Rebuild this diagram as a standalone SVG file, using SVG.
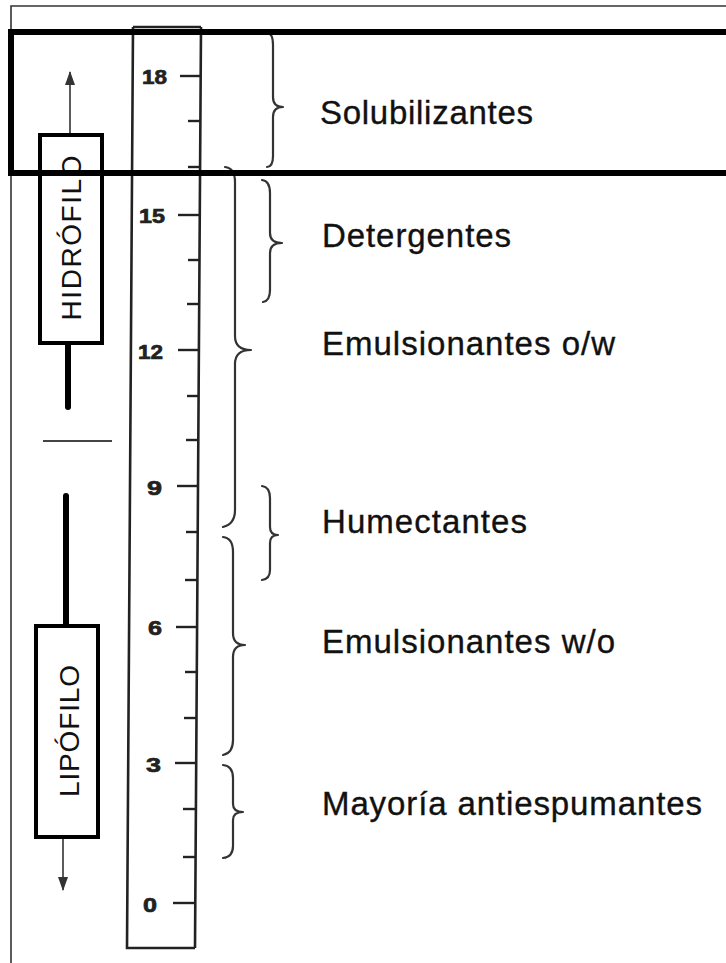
<svg xmlns="http://www.w3.org/2000/svg" width="726" height="963" viewBox="0 0 726 963">
  <defs>
    <marker id="arrowhead" viewBox="0 0 14 10" refX="13" refY="5" markerWidth="14" markerHeight="10" markerUnits="userSpaceOnUse" orient="auto">
      <path d="M0,0 L14,5 L0,10 Z" fill="#333"/>
    </marker>
    <style>
      .label { font-family: "Liberation Sans", Arial, sans-serif; font-size: 33px; fill: #111; stroke: #111; stroke-width: 0.35; }
      .axis { font-family: "Liberation Sans", Arial, sans-serif; font-size: 28px; fill: #111; }
      .num { font-family: "Liberation Sans", Arial, sans-serif; font-size: 21px; font-weight: bold; fill: #222; stroke: #222; stroke-width: 0.7; }
      .brace { fill: none; stroke: #333; stroke-width: 2.2; stroke-linecap: round; stroke-linejoin: round; }
      .ruler { fill: none; stroke: #222; stroke-width: 2.6; }
      .tick { stroke: #222; stroke-width: 2.4; }
      .box { fill: #fff; stroke: #000; stroke-width: 4; }
      .thin { stroke: #333; stroke-width: 1.6; fill: none; }
      .thick { stroke: #000; stroke-width: 6; stroke-linecap: round; }
    </style>
  </defs>

  <rect width="726" height="963" fill="#fff"/>

  <!-- outer frame (top and left edges) -->
  <path d="M11,963 L11,6 L726,6" class="thin"/>

  <!-- HLB ruler, slightly slanted -->
  <g id="ruler">
    <path class="ruler" d="M133,27 L201,27 M133,27 L127,948 L195,948 M201,27 L195,948"/>
    <g>
      <!-- major ticks -->
      <line class="tick" x1="180" y1="76" x2="201" y2="76"/>
      <line class="tick" x1="178" y1="215" x2="200" y2="215"/>
      <line class="tick" x1="178" y1="350" x2="199" y2="350"/>
      <line class="tick" x1="177" y1="486" x2="198" y2="486"/>
      <line class="tick" x1="176" y1="627" x2="197" y2="627"/>
      <line class="tick" x1="175" y1="763" x2="196" y2="763"/>
      <line class="tick" x1="173" y1="903" x2="195" y2="903"/>
      <!-- minor ticks -->
      <line class="tick" x1="188" y1="121" x2="201" y2="121"/>
      <line class="tick" x1="188" y1="167" x2="200" y2="167"/>
      <line class="tick" x1="188" y1="260" x2="200" y2="260"/>
      <line class="tick" x1="187" y1="304" x2="199" y2="304"/>
      <line class="tick" x1="187" y1="396" x2="199" y2="396"/>
      <line class="tick" x1="186" y1="440" x2="198" y2="440"/>
      <line class="tick" x1="186" y1="532" x2="198" y2="532"/>
      <line class="tick" x1="185" y1="580" x2="197" y2="580"/>
      <line class="tick" x1="185" y1="672" x2="197" y2="672"/>
      <line class="tick" x1="184" y1="718" x2="196" y2="718"/>
      <line class="tick" x1="183" y1="809" x2="196" y2="809"/>
      <line class="tick" x1="183" y1="857" x2="195" y2="857"/>
    </g>
    <g>
      <text class="num" x="142" y="84" textLength="25" lengthAdjust="spacingAndGlyphs">18</text>
      <text class="num" x="139" y="223" textLength="26" lengthAdjust="spacingAndGlyphs">15</text>
      <text class="num" x="138" y="359" textLength="25" lengthAdjust="spacingAndGlyphs">12</text>
      <text class="num" x="147" y="495" textLength="15" lengthAdjust="spacingAndGlyphs">9</text>
      <text class="num" x="148" y="635" textLength="14" lengthAdjust="spacingAndGlyphs">6</text>
      <text class="num" x="146" y="772" textLength="15" lengthAdjust="spacingAndGlyphs">3</text>
      <text class="num" x="143" y="912" textLength="14" lengthAdjust="spacingAndGlyphs">0</text>
    </g>
  </g>

  <!-- connectors: direction arrows and bars -->
  <g id="connectors">
    <line class="thin" x1="70" y1="135" x2="70" y2="72" marker-end="url(#arrowhead)"/>
    <line class="thick" x1="68" y1="343" x2="68" y2="407"/>
    <line x1="43" y1="441" x2="112" y2="441" stroke="#444" stroke-width="2"/>
    <line class="thick" x1="66" y1="496" x2="66" y2="626"/>
    <line class="thin" x1="63" y1="837" x2="63" y2="890" marker-end="url(#arrowhead)"/>
  </g>

  <!-- hydrophilic box -->
  <g id="hidrofilo">
    <rect class="box" x="40" y="135" width="62" height="208"/>
    <text class="axis" transform="translate(81,238) rotate(-90)" text-anchor="middle" textLength="165">HIDRÓFILO</text>
  </g>

  <!-- lipophilic box -->
  <g id="lipofilo">
    <rect class="box" x="36" y="626" width="62" height="211"/>
    <text class="axis" transform="translate(79,731) rotate(-90)" text-anchor="middle" textLength="132">LIPÓFILO</text>
  </g>

  <!-- ranges -->
  <g id="solubilizantes">
    <path class="brace" d="M267,33 Q273,33 273,45 L273,97 Q273,107 283,107 Q273,107 273,117 L273,156 Q273,167 267,167"/>
    <text class="label" x="320" y="124" textLength="213">Solubilizantes</text>
  </g>

  <g id="detergentes">
    <path class="brace" d="M262,180 Q270,181 270,193 L270,233 Q270,243 282,243 Q270,243 270,253 L270,290 Q270,301 263,302"/>
    <text class="label" x="322" y="247" textLength="189">Detergentes</text>
  </g>

  <g id="emulsionantes-ow">
    <path class="brace" d="M225,167 Q235,168 235,182 L235,336 Q235,350 251,350 Q235,350 235,364 L235,510 Q235,524 223,527"/>
    <text class="label" x="322" y="355" textLength="293">Emulsionantes o/w</text>
  </g>

  <g id="humectantes">
    <path class="brace" d="M262,486 Q270,487 270,498 L270,527 Q270,535 278,535 Q270,535 270,543 L270,570 Q270,579 262,580"/>
    <text class="label" x="322" y="533" textLength="205">Humectantes</text>
  </g>

  <g id="emulsionantes-wo">
    <path class="brace" d="M223,537 Q233,538 233,552 L233,633 Q233,645 245,645 Q233,645 233,657 L233,740 Q233,753 223,755"/>
    <text class="label" x="322" y="653" textLength="293">Emulsionantes w/o</text>
  </g>

  <g id="antiespumantes">
    <path class="brace" d="M223,765 Q233,766 233,778 L233,804 Q233,812 243,812 Q233,812 233,820 L233,846 Q233,857 223,858"/>
    <text class="label" x="322" y="815" textLength="380">Mayoría antiespumantes</text>
  </g>

  <!-- highlight frame around the top range -->
  <rect x="11" y="32" width="725" height="141" fill="none" stroke="#000" stroke-width="6"/>
</svg>
